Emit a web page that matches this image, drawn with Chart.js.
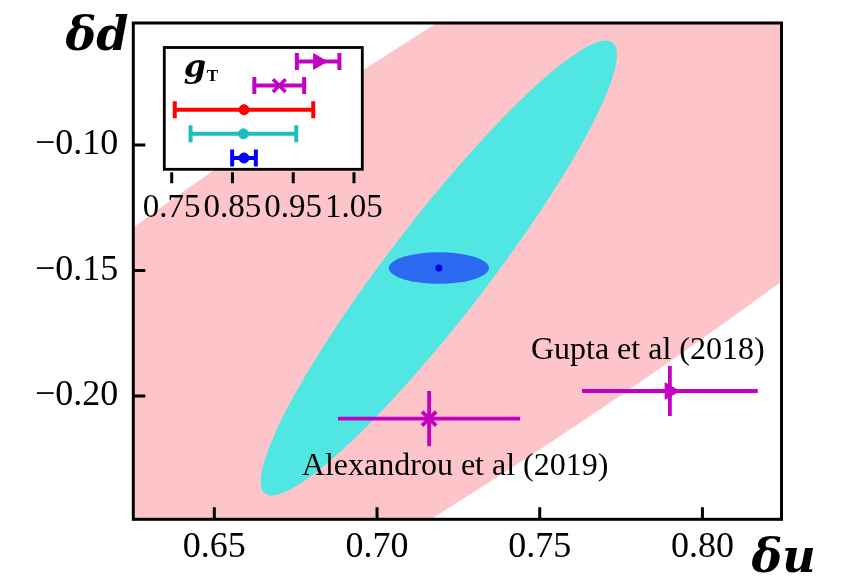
<!DOCTYPE html>
<html><head><meta charset="utf-8">
<script src="https://cdn.jsdelivr.net/npm/chart.js@4.4.1/dist/chart.umd.min.js"></script>
<style>
html,body{margin:0;padding:0;background:#fff;}
#wrap{position:relative;width:845px;height:578px;overflow:hidden;background:#fff;}
#main{position:absolute;left:0;top:0;}
#inset{position:absolute;left:120px;top:35px;}
</style></head><body>
<div id="wrap"><canvas id="main" width="845" height="578"></canvas><canvas id="inset" width="270" height="200"></canvas></div>
<script>
// ---------------- main panel data (δu , δd) ----------------
const xTicks = [0.65, 0.70, 0.75, 0.80];
const yTicks = [-0.20, -0.15, -0.10];
const xRange = [0.6251, 0.8243];
const yRange = [-0.2491, -0.0514];

// this work: central value
const centerU = [0.719];
const centerD = [-0.149];

// confidence regions: centre and semi-axis vectors (data units)
const ellipseNames = ['band', 'outer', 'inner'];
const ellipseCx = [0.719, 0.719, 0.719];
const ellipseCy = [-0.149, -0.149, -0.149];
const ellipseAx = [0.2821, 0.0534, 0.0154];
const ellipseAy = [0.2416, 0.0898, 0.0];
const ellipseBx = [0.0351, 0.0120, 0.0];
const ellipseBy = [-0.0688, -0.0120, 0.0063];

// other lattice results
const refNames = ['Alexandrou et al (2019)', 'Gupta et al (2018)'];
const refU = [0.716, 0.790];
const refUErr = [0.028, 0.027];
const refD = [-0.209, -0.198];
const refDErr = [0.011, 0.010];
const refLabelU = [0.724, 0.7832];
const refLabelD = [-0.2282, -0.1817];

// ---------------- inset: g_T ----------------
const gtTicks = [0.75, 0.85, 0.95, 1.05];
const gtTickLabels = ['0.75', '0.85', '0.95', '1.05'];
const gtRange = [0.7378, 1.0637];
const gtRows = [5, 4, 3, 2, 1];
const gtValue = [0.991, 0.927, 0.869, 0.868, 0.869];
const gtErr = [0.035, 0.041, 0.114, 0.087, 0.0195];

// ---------------- styles ----------------
const MAG = '#c400c4';
const ellipseColors = ['#fdc5c9', '#50e6e2', '#2b6af0'];
const gtColors = [MAG, MAG, '#ff0000', '#1fbdbd', '#0000ff'];
const gtStyles = ['triangle', 'crossRot', 'circle', 'circle', 'circle'];
const gtRot = [90, 0, 0, 0, 0];
const SERIF = "'Liberation Serif', serif";

function drawEllipse(ctx, xs, ys, i) {
  const cx = xs.getPixelForValue(ellipseCx[i]), cy = ys.getPixelForValue(ellipseCy[i]);
  const ax = xs.getPixelForValue(ellipseCx[i] + ellipseAx[i]) - cx;
  const ay = ys.getPixelForValue(ellipseCy[i] + ellipseAy[i]) - cy;
  const bx = xs.getPixelForValue(ellipseCx[i] + ellipseBx[i]) - cx;
  const by = ys.getPixelForValue(ellipseCy[i] + ellipseBy[i]) - cy;
  ctx.save();
  ctx.beginPath();
  ctx.transform(ax, ay, bx, by, cx, cy);
  ctx.arc(0, 0, 1, 0, Math.PI * 2);
  ctx.restore();
  ctx.fillStyle = ellipseColors[i];
  ctx.fill();
}

const noPad = s => { s.paddingTop = 0; s.paddingBottom = 0; s.paddingLeft = 0; s.paddingRight = 0; };

const mainPlugin = {
  id: 'mainDecor',
  beforeDatasetsDraw(chart) {
    const {ctx, chartArea: a, scales: {x, y}} = chart;
    ctx.save();
    ctx.beginPath(); ctx.rect(a.left, a.top, a.width, a.height); ctx.clip();
    for (let i = 0; i < ellipseNames.length; i++) drawEllipse(ctx, x, y, i);
    ctx.strokeStyle = MAG; ctx.lineWidth = 3.8; ctx.lineCap = 'butt';
    for (let i = 0; i < refU.length; i++) {
      const px = x.getPixelForValue(refU[i]), py = y.getPixelForValue(refD[i]);
      ctx.beginPath();
      ctx.moveTo(x.getPixelForValue(refU[i] - refUErr[i]), py);
      ctx.lineTo(x.getPixelForValue(refU[i] + refUErr[i]), py);
      ctx.moveTo(px, y.getPixelForValue(refD[i] - refDErr[i]));
      ctx.lineTo(px, y.getPixelForValue(refD[i] + refDErr[i]));
      ctx.stroke();
    }
    ctx.restore();
  },
  afterDatasetsDraw(chart) {
    const {ctx, chartArea: a, scales: {x, y}} = chart;
    ctx.save();
    ctx.fillStyle = '#000';
    ctx.font = "32px " + SERIF;
    ctx.textAlign = 'center'; ctx.textBaseline = 'middle';
    for (let i = 0; i < refNames.length; i++) {
      ctx.fillText(refNames[i], x.getPixelForValue(refLabelU[i]), y.getPixelForValue(refLabelD[i]));
    }
    // frame
    ctx.strokeStyle = '#000'; ctx.lineWidth = 3;
    ctx.strokeRect(a.left, a.top, a.width, a.height);
    // inward ticks
    ctx.beginPath();
    xTicks.forEach(v => { const p = x.getPixelForValue(v); ctx.moveTo(p, a.bottom); ctx.lineTo(p, a.bottom - 12); });
    yTicks.forEach(v => { const p = y.getPixelForValue(v); ctx.moveTo(a.left, p); ctx.lineTo(a.left + 12, p); });
    ctx.stroke();
    // axis titles
    ctx.font = "italic bold 46px 'DejaVu Serif', serif";
    ctx.textBaseline = 'alphabetic';
    ctx.textAlign = 'right';
    ctx.fillText('\u03B4d', a.left - 5, a.top + 27);
    ctx.textAlign = 'left';
    ctx.fillText('\u03B4u', a.right - 30, a.bottom + 53);
    ctx.restore();
  }
};

new Chart(document.getElementById('main'), {
  type: 'scatter',
  data: {
    datasets: [
      { label: 'this work', data: centerU.map((u, i) => ({x: u, y: centerD[i]})),
        pointStyle: 'circle', pointRadius: 3.5, backgroundColor: '#0000e6', borderWidth: 0 },
      { label: refNames[0], data: [{x: refU[0], y: refD[0]}],
        pointStyle: 'crossRot', pointRadius: 10, borderColor: MAG, backgroundColor: MAG, borderWidth: 3.8 },
      { label: refNames[1], data: [{x: refU[1], y: refD[1]}],
        pointStyle: 'triangle', pointRotation: 90, pointRadius: 9.5, borderColor: MAG, backgroundColor: MAG, borderWidth: 1 }
    ]
  },
  options: {
    responsive: false, animation: false, devicePixelRatio: 1,
    layout: { padding: { left: 0, top: 23, right: 63.5, bottom: 0 } },
    plugins: { legend: { display: false }, tooltip: { enabled: false } },
    scales: {
      x: {
        type: 'linear', min: xRange[0], max: xRange[1],
        afterBuildTicks: s => { s.ticks = xTicks.map(v => ({value: v})); },
        afterFit: s => { s.height = 58.7; noPad(s); },
        grid: { display: false, drawTicks: false }, border: { display: false },
        ticks: { autoSkip: false, maxRotation: 0, color: '#000', padding: 7,
          font: { family: SERIF, size: 36 }, callback: v => v.toFixed(2) }
      },
      y: {
        type: 'linear', min: yRange[0], max: yRange[1],
        afterBuildTicks: s => { s.ticks = yTicks.map(v => ({value: v})); },
        afterFit: s => { s.width = 133.3; noPad(s); },
        grid: { display: false, drawTicks: false }, border: { display: false },
        ticks: { autoSkip: false, color: '#000', padding: 15,
          font: { family: SERIF, size: 36 }, callback: v => v.toFixed(2).replace('-', '\u2212') }
      }
    }
  },
  plugins: [mainPlugin]
});

// ---------------- inset chart ----------------
const insetPlugin = {
  id: 'insetDecor',
  beforeDatasetsDraw(chart) {
    const {ctx, chartArea: a, scales: {x, y}} = chart;
    ctx.save();
    ctx.fillStyle = '#fff';
    ctx.fillRect(a.left, a.top, a.width, a.height);
    ctx.lineWidth = 4;
    for (let i = 0; i < gtRows.length; i++) {
      const py = y.getPixelForValue(gtRows[i]);
      const x1 = x.getPixelForValue(gtValue[i] - gtErr[i]);
      const x2 = x.getPixelForValue(gtValue[i] + gtErr[i]);
      ctx.strokeStyle = gtColors[i];
      ctx.beginPath();
      ctx.moveTo(x1, py); ctx.lineTo(x2, py);
      ctx.moveTo(x1, py - 8.5); ctx.lineTo(x1, py + 8.5);
      ctx.moveTo(x2, py - 8.5); ctx.lineTo(x2, py + 8.5);
      ctx.stroke();
    }
    ctx.restore();
  },
  afterDatasetsDraw(chart) {
    const {ctx, chartArea: a, scales: {x}} = chart;
    ctx.save();
    ctx.strokeStyle = '#000'; ctx.lineWidth = 2.8;
    ctx.strokeRect(a.left, a.top, a.width, a.height);
    ctx.lineWidth = 3;
    ctx.beginPath();
    gtTicks.forEach(v => { const p = x.getPixelForValue(v); ctx.moveTo(p, a.bottom + 3); ctx.lineTo(p, a.bottom + 14); });
    ctx.stroke();
    ctx.fillStyle = '#000';
    ctx.textBaseline = 'alphabetic'; ctx.textAlign = 'left';
    ctx.font = "italic bold 32px 'DejaVu Serif', serif";
    const gx = a.left + 19.5;
    ctx.fillText('g', gx, a.top + 29.5);
    const gw = ctx.measureText('g').width;
    ctx.font = "bold 17px 'Liberation Serif', serif";
    ctx.fillText('T', gx + gw + 0.5, a.top + 33.3);
    ctx.restore();
  }
};

new Chart(document.getElementById('inset'), {
  type: 'scatter',
  data: {
    datasets: gtRows.map((r, i) => ({
      data: [{x: gtValue[i], y: r}],
      pointStyle: gtStyles[i], pointRotation: gtRot[i],
      pointRadius: gtStyles[i] === 'circle' ? 5 : 9,
      backgroundColor: gtColors[i], borderColor: gtColors[i],
      borderWidth: gtStyles[i] === 'crossRot' ? 3.5 : 1
    }))
  },
  options: {
    responsive: false, animation: false, devicePixelRatio: 1,
    layout: { padding: { left: 44.3, top: 10, right: 27.7, bottom: 0 } },
    plugins: { legend: { display: false }, tooltip: { enabled: false } },
    scales: {
      x: {
        type: 'linear', min: gtRange[0], max: gtRange[1],
        afterBuildTicks: s => { s.ticks = gtTicks.map(v => ({value: v})); },
        afterFit: s => { s.height = 65.7; noPad(s); },
        grid: { display: false, drawTicks: false }, border: { display: false },
        ticks: { autoSkip: false, maxRotation: 0, color: '#000', padding: 19,
          font: { family: SERIF, size: 33 }, callback: (v, i) => gtTickLabels[i] }
      },
      y: { type: 'linear', display: false, min: 0.53, max: 5.58 }
    }
  },
  plugins: [insetPlugin]
});
</script>
</body></html>
